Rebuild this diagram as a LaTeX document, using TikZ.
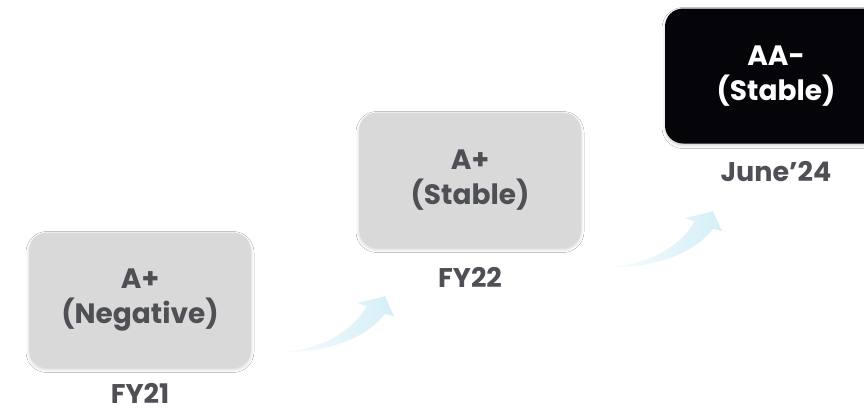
\documentclass[tikz,border=0pt]{standalone}
\usepackage{fontspec}
\setmainfont{Poppins}
\usetikzlibrary{positioning, shadows.blur}
\definecolor{ratinggray}{RGB}{217, 217, 217}
\definecolor{labelgray}{RGB}{78, 80, 86}
\definecolor{topblack}{RGB}{5, 4, 8}
\definecolor{swoosh}{RGB}{212, 239, 247}

% curved rising arrow, tail at the pic origin
\tikzset{
  swoosh/.pic={
    \shade[left color=swoosh!20, right color=swoosh]
      (0,0) .. controls (40,-4) and (68,-22) .. (81.7,-45.7)
      -- (72.3,-49) -- (100,-55.7) -- (109,-35.7) -- (100,-38.4)
      .. controls (80,-12) and (40,0) .. (0,0) -- cycle;
  }
}

\begin{document}
\begin{tikzpicture}[x=1pt, y=-1pt,
      rating/.style={rounded corners=18pt, minimum width=222pt,
                     minimum height=135pt, align=center,
                     inner sep=0pt,
                     font=\fontsize{28}{35}\selectfont\bfseries,
                     blur shadow={shadow xshift=0pt,
                     shadow yshift=-2pt, shadow blur radius=3pt,
                     shadow opacity=18}},
      period/.style={font=\fontsize{27}{30}\selectfont\bfseries,
                     text=labelgray, inner sep=0pt},
  ]
  \clip (0,0) rectangle (864,408);
  \fill[white] (0,0) rectangle (864,408);

  % rating boxes
  \node[rating, fill=ratinggray, text=labelgray] (neg)
      at (140,300) {A+\\(Negative)};
  \node[rating, fill=ratinggray, text=labelgray] (stab)
      at (470,180) {A+\\(Stable)};
  \node[rating, fill=topblack, text=white] (aa)
      at (776,76) {AA-\\(Stable)};

  % periods under the boxes
  \node[period, below=15pt of neg] (fy21) {FY21};
  \node[period, below=19pt of stab] (fy22) {FY22};
  \node[period, below=17pt of aa] (jun24) {June’24};

  % arrows between the steps
  \pic at (285,352) {swoosh};
  \pic at (613,267) {swoosh};
\end{tikzpicture}
\end{document}
